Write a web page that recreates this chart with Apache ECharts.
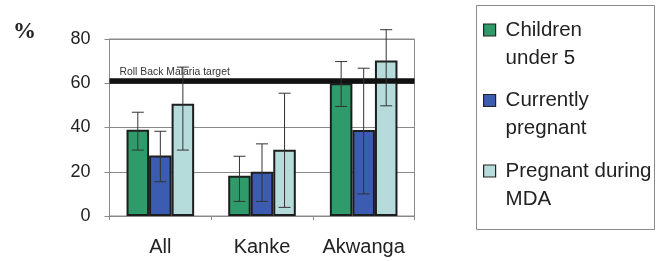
<!DOCTYPE html>
<html>
<head>
<meta charset="utf-8">
<script src="https://cdn.jsdelivr.net/npm/echarts@6/dist/echarts.min.js"></script>
<style>
html,body{margin:0;padding:0;background:#fff;}
#chart{width:663px;height:261px;}
</style>
</head>
<body>
<div id="chart"></div>
<script>
var categories = ['All', 'Kanke', 'Akwanga'];
var seriesNames = ['Children\nunder 5', 'Currently\npregnant', 'Pregnant during\nMDA'];
var children = [39, 18.2, 60];
var childrenLow = [29.8, 6.6, 49.5];
var childrenHigh = [46.9, 27, 69.8];
var currentlyPregnant = [27.3, 20, 38.9];
var currentlyLow = [15.5, 6.6, 10];
var currentlyHigh = [38.3, 32.6, 66.8];
var pregnantMDA = [50.7, 29.9, 70.3];
var mdaLow = [29.8, 3.9, 49.8];
var mdaHigh = [67.3, 55.5, 84.2];
var targetValue = 61;
var targetLabel = 'Roll Back Malaria target';
var yTicks = [0, 20, 40, 60, 80];

var colors = ['#2f9b6a', '#3c5cb1', '#b5dbdb'];
var values = [children, currentlyPregnant, pregnantMDA];
var lows = [childrenLow, currentlyLow, mdaLow];
var highs = [childrenHigh, currentlyHigh, mdaHigh];

var errData = [];
for (var s = 0; s < 3; s++) {
  for (var c = 0; c < categories.length; c++) {
    errData.push([c, lows[s][c], highs[s][c], s]);
  }
}

var FONT = "'Liberation Sans', Arial, sans-serif";
var CAT_GAP = 0.335;

var barSeries = values.map(function (v, i) {
  var s = {
    name: seriesNames[i],
    type: 'bar',
    data: v,
    barGap: '0%',
    barCategoryGap: (CAT_GAP * 100) + '%',
    itemStyle: { color: colors[i], borderColor: '#1e1e1e', borderWidth: 2 },
    z: 2
  };
  if (i === 0) {
    s.markLine = {
      silent: true,
      symbol: ['none', 'none'],
      z: 5,
      lineStyle: { color: '#111', width: 5.5, type: 'solid' },
      label: {
        show: true,
        position: 'insideStartTop',
        formatter: targetLabel,
        fontFamily: FONT,
        fontSize: 10.4,
        color: '#333',
        distance: [10, 4]
      },
      data: [{ yAxis: targetValue }]
    };
  }
  return s;
});

var errSeries = {
  type: 'custom',
  name: 'err',
  z: 10,
  silent: true,
  data: errData,
  encode: { x: 0, y: [1, 2] },
  renderItem: function (params, api) {
    var cat = api.value(0);
    var lo = api.coord([cat, api.value(1)]);
    var hi = api.coord([cat, api.value(2)]);
    var band = api.size([1, 0])[0];
    var bw = band * (1 - CAT_GAP) / 3;
    var off = (api.value(3) - 1) * bw;
    var x = lo[0] + off;
    var half = 6;
    var st = { stroke: '#333', lineWidth: 1, fill: null };
    return {
      type: 'group',
      children: [
        { type: 'line', shape: { x1: x, y1: lo[1], x2: x, y2: hi[1] }, style: st },
        { type: 'line', shape: { x1: x - half, y1: lo[1], x2: x + half, y2: lo[1] }, style: st },
        { type: 'line', shape: { x1: x - half, y1: hi[1], x2: x + half, y2: hi[1] }, style: st }
      ]
    };
  }
};

var chart = echarts.init(document.getElementById('chart'), null, { renderer: 'canvas' });
chart.setOption({
  animation: false,
  backgroundColor: '#fff',
  textStyle: { fontFamily: FONT },
  grid: {
    left: 109.5, right: 248.5, top: 39, bottom: 45,
    show: true, borderColor: '#8a8a8a', borderWidth: 1
  },
  legend: {
    orient: 'vertical',
    data: seriesNames,
    left: 483,
    top: -12,
    padding: 0,
    itemGap: -13.5,
    itemWidth: 12,
    itemHeight: 12,
    icon: 'rect',
    selectedMode: false,
    formatter: function (name) { return '\n' + name; },
    itemStyle: { borderColor: '#222', borderWidth: 1.2 },
    textStyle: { fontFamily: FONT, fontSize: 20.5, color: '#222', lineHeight: 28, padding: [0, 0, 0, 5] }
  },
  graphic: [
    {
      type: 'rect', left: 476, top: 5, z: -1,
      shape: { width: 178, height: 224 },
      style: { fill: '#fff', stroke: '#8a8a8a', lineWidth: 1 }
    },
    {
      type: 'text', left: 13, top: 21,
      style: { text: '%', font: "bold 23px 'Liberation Serif', 'Times New Roman', serif", fill: '#222' }
    }
  ],
  xAxis: {
    type: 'category',
    data: categories,
    axisLine: { lineStyle: { color: '#8a8a8a', width: 1 } },
    axisTick: { show: true, length: 4, lineStyle: { color: '#8a8a8a' } },
    axisLabel: { fontFamily: FONT, fontSize: 20, color: '#222', margin: 21, interval: 0 }
  },
  yAxis: {
    type: 'value',
    min: yTicks[0],
    max: yTicks[yTicks.length - 1],
    interval: yTicks[1] - yTicks[0],
    axisLine: { show: true, lineStyle: { color: '#8a8a8a', width: 1 } },
    axisTick: { show: true, length: 5, lineStyle: { color: '#8a8a8a' } },
    splitLine: { show: true, lineStyle: { color: '#8a8a8a', width: 1 } },
    axisLabel: { fontFamily: FONT, fontSize: 18, color: '#222', margin: 19 }
  },
  series: barSeries.concat([errSeries])
});
</script>
</body>
</html>
